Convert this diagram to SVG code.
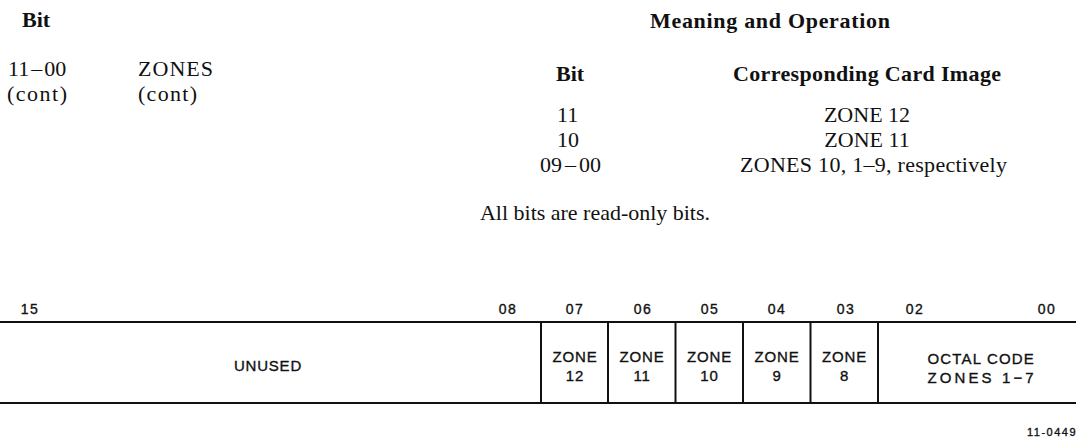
<svg xmlns="http://www.w3.org/2000/svg" width="1076" height="439" viewBox="0 0 1076 439">
<style>
  .serif { font-family: "Liberation Serif", "Times New Roman", serif; font-size: 22px; fill: #111; }
  .bold { font-weight: bold; }
  .sans { font-family: "Liberation Sans", Arial, sans-serif; fill: #111; stroke: #111; stroke-width: 0.35px; }
  .bitno { font-size: 14px; letter-spacing: 1.5px; text-anchor: middle; }
  .field { font-size: 15px; letter-spacing: 0.8px; text-anchor: middle; }
  .rule { stroke: #111; stroke-width: 2; fill: none; }
</style>
<rect width="1076" height="439" fill="#fff"/>

<g id="header">
  <text class="serif bold" x="22" y="27">Bit</text>
  <text class="serif bold" x="650" y="28" textLength="240" lengthAdjust="spacing">Meaning and Operation</text>
</g>

<g id="bit-description">
  <text class="serif" x="8" y="76"><tspan>11</tspan><tspan dx="2">–</tspan><tspan dx="2">00</tspan></text>
  <text class="serif" x="138" y="76" textLength="75" lengthAdjust="spacing">ZONES</text>
  <text class="serif" x="7" y="101" textLength="60" lengthAdjust="spacing">(cont)</text>
  <text class="serif" x="138" y="101" textLength="59" lengthAdjust="spacing">(cont)</text>
</g>

<g id="meaning-table">
  <text class="serif bold" x="556" y="81">Bit</text>
  <text class="serif bold" x="733" y="81" textLength="268" lengthAdjust="spacing">Corresponding Card Image</text>
  <text class="serif" x="557" y="122">11</text>
  <text class="serif" x="867" y="122" text-anchor="middle">ZONE 12</text>
  <text class="serif" x="557" y="147">10</text>
  <text class="serif" x="867" y="147" text-anchor="middle">ZONE 11</text>
  <text class="serif" x="540" y="172"><tspan>09</tspan><tspan dx="3">–</tspan><tspan dx="3">00</tspan></text>
  <text class="serif" x="740" y="172" textLength="267" lengthAdjust="spacing">ZONES 10, 1–9, respectively</text>
  <text class="serif" x="480" y="220" textLength="230" lengthAdjust="spacing">All bits are read-only bits.</text>
</g>

<g id="bit-numbers" class="sans bitno">
  <text x="30" y="314">15</text>
  <text x="508" y="314">08</text>
  <text x="575" y="314">07</text>
  <text x="643" y="314">06</text>
  <text x="710" y="314">05</text>
  <text x="777" y="314">04</text>
  <text x="846" y="314">03</text>
  <text x="915" y="314">02</text>
  <text x="1047" y="314">00</text>
</g>

<g id="register-frame">
  <line class="rule" x1="0" y1="322" x2="1076" y2="322"/>
  <line class="rule" x1="0" y1="403" x2="1076" y2="403"/>
</g>

<g id="field-unused">
  <line class="rule" x1="541" y1="322" x2="541" y2="403"/>
  <text class="sans field" x="268" y="371">UNUSED</text>
</g>
<g id="field-zone12">
  <line class="rule" x1="608" y1="322" x2="608" y2="403"/>
  <text class="sans field" x="575" y="361.5">ZONE</text>
  <text class="sans field" x="575" y="380.5">12</text>
</g>
<g id="field-zone11">
  <line class="rule" x1="675.5" y1="322" x2="675.5" y2="403"/>
  <text class="sans field" x="642" y="361.5">ZONE</text>
  <text class="sans field" x="642" y="380.5">11</text>
</g>
<g id="field-zone10">
  <line class="rule" x1="743" y1="322" x2="743" y2="403"/>
  <text class="sans field" x="709.5" y="361.5">ZONE</text>
  <text class="sans field" x="709.5" y="380.5">10</text>
</g>
<g id="field-zone9">
  <line class="rule" x1="810.5" y1="322" x2="810.5" y2="403"/>
  <text class="sans field" x="777" y="361.5">ZONE</text>
  <text class="sans field" x="777" y="380.5">9</text>
</g>
<g id="field-zone8">
  <line class="rule" x1="878" y1="322" x2="878" y2="403"/>
  <text class="sans field" x="844.5" y="361.5">ZONE</text>
  <text class="sans field" x="844.5" y="380.5">8</text>
</g>
<g id="field-octal">
  <text class="sans field" x="981" y="364" textLength="107" lengthAdjust="spacing">OCTAL CODE</text>
  <text class="sans field" x="981" y="382.5" textLength="107" lengthAdjust="spacing">ZONES 1−7</text>
</g>

<g id="figure-number">
  <text class="sans" x="1027" y="436" font-size="11" letter-spacing="1.5" stroke-width="0.25">11-0449</text>
</g>
</svg>
